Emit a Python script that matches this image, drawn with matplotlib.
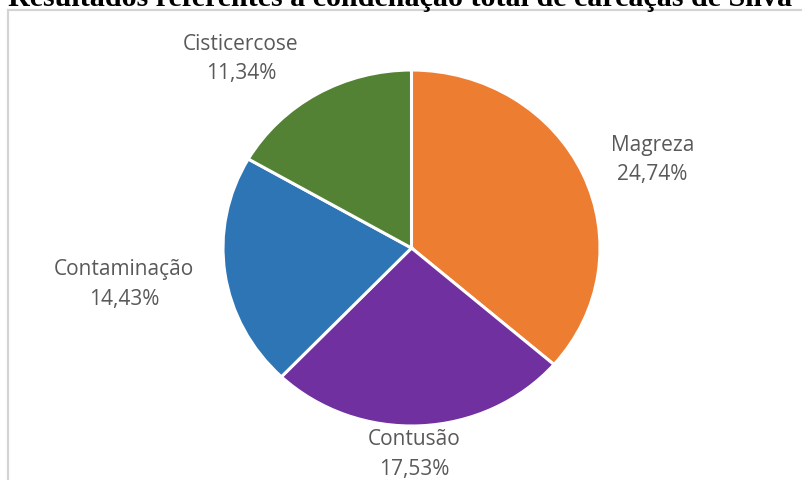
import matplotlib
matplotlib.use("Agg")
import matplotlib.pyplot as plt
from matplotlib.patches import Rectangle

# Causes of total carcass condemnation and their shares (%)
categories = ["Magreza", "Contusão", "Contaminação", "Cisticercose"]
values = [24.74, 17.53, 14.43, 11.34]
value_labels = ["24,74%", "17,53%", "14,43%", "11,34%"]
colors = ["#ED7D31", "#7030A0", "#2E75B6", "#548235"]

title = "Resultados referentes à condenação total de carcaças de Silva"

W, H = 802, 481
fig = plt.figure(figsize=(W / 100, H / 100), dpi=100)
fig.patch.set_facecolor("white")

def fx(px):
    return px / W

def fy(py):
    return 1 - py / H

# chart frame (top and left edges visible)
frame = Rectangle((fx(8), fy(H + 20)), fx(W + 40), (H + 20 - 11) / H,
                  transform=fig.transFigure, fill=False,
                  edgecolor="#d4d4d4", linewidth=1.6, zorder=0)
fig.add_artist(frame)

# pie area
left, right, top, bottom = 223, 600, 71, 427
ax = fig.add_axes([fx(left), fy(bottom), (right - left) / W, (bottom - top) / H])
wedges, _ = ax.pie(values, colors=colors, startangle=90, counterclock=False,
                   wedgeprops=dict(edgecolor="white", linewidth=2.2))
ax.set_xlim(-1, 1)
ax.set_ylim(-1, 1)
ax.set_aspect("auto")
ax.axis("off")

# label anchors in data coordinates of the pie axes
label_pos = [(1.278, 0.50), (0.016, -1.155), (-1.525, -0.20), (-0.905, 1.067)]
for name, vl, (x, y) in zip(categories, value_labels, label_pos):
    ax.text(x, y, f"{name}\n{vl}", ha="center", va="center",
            fontsize=15, family="Open Sans", color="#595959",
            linespacing=1.55, clip_on=False)

# title, partially cut at the top edge
fig.text(0.5 - 1 / W, fy(6), title, ha="center", va="baseline",
         fontsize=21.6, family="Liberation Serif", fontweight="bold",
         color="black")

fig.savefig("out.png", dpi=100)
